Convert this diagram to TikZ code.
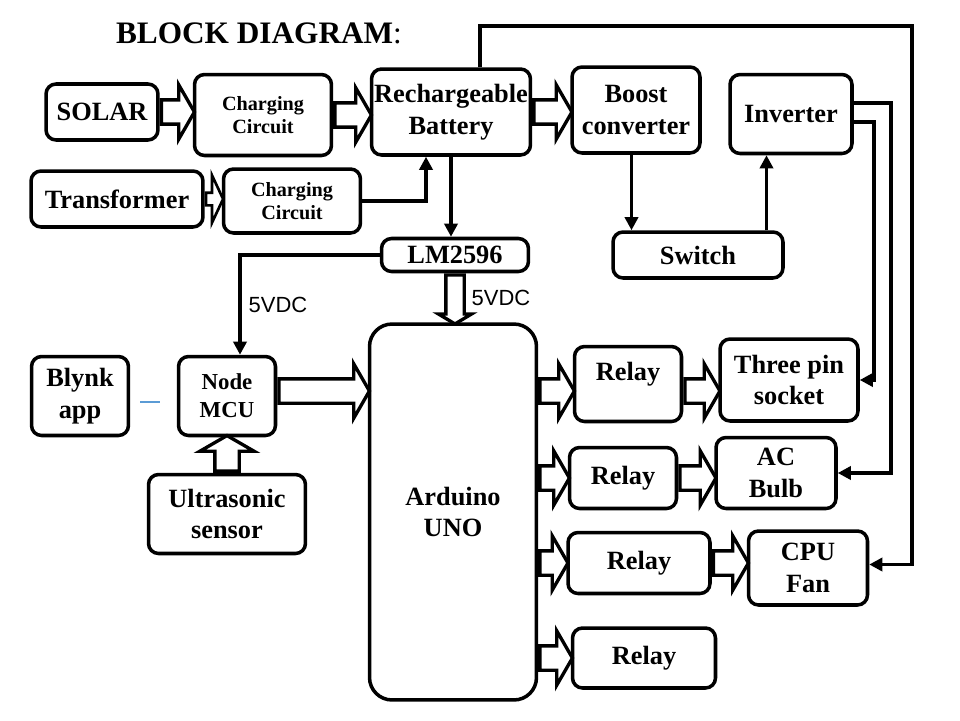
\documentclass[tikz,border=0pt]{standalone}
\usepackage{fontspec}
\setmainfont{Liberation Serif}
\newfontfamily\arialfont{Liberation Sans}
\usepackage{tikz}
\usetikzlibrary{shapes,arrows.meta,positioning,calc}
\definecolor{linkblue}{RGB}{91,155,213}
\tikzstyle{block} = [rectangle, rounded corners=0.2cm, draw=black, line width=2pt, align=center, inner sep=1pt, font=\fontsize{15}{18}\selectfont\bfseries]
\tikzstyle{smallblock} = [block, font=\fontsize{11.5}{13.5}\selectfont\bfseries]
\tikzstyle{wire} = [line width=2pt]
\tikzstyle{fat} = [single arrow, draw=black, fill=white, line width=1.9pt, inner xsep=0pt, inner ysep=0.21cm, text height=0pt, text depth=0pt, text width=0pt, minimum width=0pt, single arrow head extend=0.3cm, single arrow tip angle=120]
\tikzstyle{thinfat} = [inner ysep=0.1cm, single arrow head extend=0.35cm, single arrow tip angle=130, line width=1.5pt]
\tikzstyle{lmfat} = [inner ysep=0.15cm, single arrow head extend=0.15cm, single arrow tip angle=118]
\tikzstyle{vlabel} = [font=\arialfont\fontsize{12.5}{14}\selectfont]
% hollow block arrow from #3 to #4, named #2
\newcommand{\fatarrow}[4][]{%
  \path let \p1=#3, \p2=#4, \n1={veclen(\x2-\x1,\y2-\y1)}, \n2={atan2(\y2-\y1,\x2-\x1)} in
    node[fat, anchor=tail, minimum height=\n1, rotate=\n2, #1] (#2) at (\p1) {};}

\begin{document}
\begin{tikzpicture}[x=0.02cm, y=-0.02cm, >={Triangle[length=7.5pt,width=7.5pt]}]
    \useasboundingbox (0,0) rectangle (960,720);
    \node (title) at (259,33) {\fontsize{17.8}{20}\selectfont\textbf{BLOCK DIAGRAM}:};

    % supply side
    \node[block, minimum width=2.24cm, minimum height=1.12cm] (solar) at (102,112) {SOLAR};
    \node[smallblock, minimum width=2.74cm, minimum height=1.62cm] (cc1) at (263,115) {Charging\\Circuit};
    \node[block, minimum width=3.18cm, minimum height=1.72cm] (batt) at (451,112) {Rechargeable\\Battery};
    \node[block, minimum width=3.44cm, minimum height=1.12cm] (trans) at (117,199) {Transformer};
    \node[smallblock, minimum width=2.74cm, minimum height=1.28cm] (cc2) at (292,201) {Charging\\Circuit};
    \node[block, minimum width=2.56cm, minimum height=1.72cm] (boost) at (636,110) {Boost\\converter};
    \node[block, minimum width=2.44cm, minimum height=1.58cm] (inv) at (791,114) {Inverter};
    \node[block, minimum width=3.4cm, minimum height=0.92cm] (sw) at (698,255) {Switch};
    \node[block, minimum width=2.94cm, minimum height=0.66cm] (lm) at (455,255) {LM2596};

    % control side
    \node[block, rounded corners=0.45cm, minimum width=3.34cm, minimum height=7.52cm] (arduino) at (453,512) {Arduino\\UNO};
    \node[block, minimum width=1.94cm, minimum height=1.58cm] (blynk) at (80,396) {Blynk\\app};
    \node[block, font=\fontsize{13}{16}\selectfont\bfseries, minimum width=1.94cm, minimum height=1.58cm] (mcu) at (227,396) {Node\\MCU};
    \node[block, minimum width=3.14cm, minimum height=1.58cm] (ultra) at (227,514) {Ultrasonic\\sensor};

    % relays and loads
    \node[block, minimum width=2.14cm, minimum height=1.5cm, text height=0.35cm, text depth=0.5cm] (r1) at (628,384) {Relay};
    \node[block, minimum width=2.76cm, minimum height=1.64cm] (socket) at (789,380) {Three pin\\socket};
    \node[block, minimum width=2.14cm, minimum height=1.22cm] (r2) at (623,478) {Relay};
    \node[block, minimum width=2.4cm, minimum height=1.42cm] (bulb) at (776,473) {AC\\Bulb};
    \node[block, minimum width=2.84cm, minimum height=1.22cm] (r3) at (639,563) {Relay};
    \node[block, minimum width=2.38cm, minimum height=1.48cm] (fan) at (808,568) {CPU\\Fan};
    \node[block, minimum width=2.86cm, minimum height=1.2cm] (r4) at (644,658) {Relay};

    \node[vlabel] (v1) at (278,305) {5VDC};
    \node[vlabel] (v2) at (501,298) {5VDC};

    % block arrows
    \fatarrow{a1}{(solar.east)}{(solar.east -| cc1.west)}
    \fatarrow{a2}{(cc1.east)}{(cc1.east -| batt.west)}
    \fatarrow{a3}{(batt.east)}{(batt.east -| boost.west)}
    \fatarrow[thinfat]{a4}{(trans.east)}{(trans.east -| cc2.west)}
    \fatarrow[lmfat]{a5}{(lm.south)}{(lm.south |- arduino.north)}
    \fatarrow{a6}{([yshift=0.1cm]mcu.east)}{([yshift=0.1cm]mcu.east -| arduino.west)}
    \fatarrow{a7}{(ultra.north)}{(mcu.south)}
    \fatarrow{a8}{([yshift=-0.14cm]r1.west -| arduino.east)}{([yshift=-0.14cm]r1.west)}
    \fatarrow{a9}{([yshift=-0.14cm]r1.east)}{([yshift=-0.14cm]r1.east -| socket.west)}
    \fatarrow{a10}{(r2.west -| arduino.east)}{(r2.west)}
    \fatarrow{a11}{(r2.east)}{(r2.east -| bulb.west)}
    \fatarrow{a12}{(r3.west -| arduino.east)}{(r3.west)}
    \fatarrow{a13}{(r3.east)}{(r3.east -| fan.west)}
    \fatarrow{a14}{(r4.west -| arduino.east)}{(r4.west)}

    % wires
    \coordinate (rail) at (912,26);
    \draw[wire,->] (cc2.east) -| ([xshift=-0.5cm]batt.south);
    \draw[wire,->] (batt.south) -- (batt.south |- lm.north);
    \draw[wire,->] (lm.west) -| ([xshift=0.26cm]mcu.north);
    \draw[wire,->] ([xshift=-0.09cm]boost.south) -- ([xshift=-0.09cm]boost.south |- sw.north);
    \draw[wire,->] ([xshift=1.37cm]sw.north) -- ([xshift=1.37cm]sw.north |- inv.south);
    \draw[wire,->] ([xshift=0.58cm]batt.north) |- (rail) |- ([yshift=0.07cm]fan.east);
    \draw[wire,->] ([yshift=0.22cm]inv.east) -- ++(37,0) |- (bulb.east);
    \draw[wire,->] ([yshift=-0.16cm]inv.east) -- ++(20,0) |- (socket.east);
    \draw[linkblue, line width=0.6pt] ($(blynk.east)+(10,6)$) -- ($(mcu.west)+(-17,6)$);
\end{tikzpicture}
\end{document}
